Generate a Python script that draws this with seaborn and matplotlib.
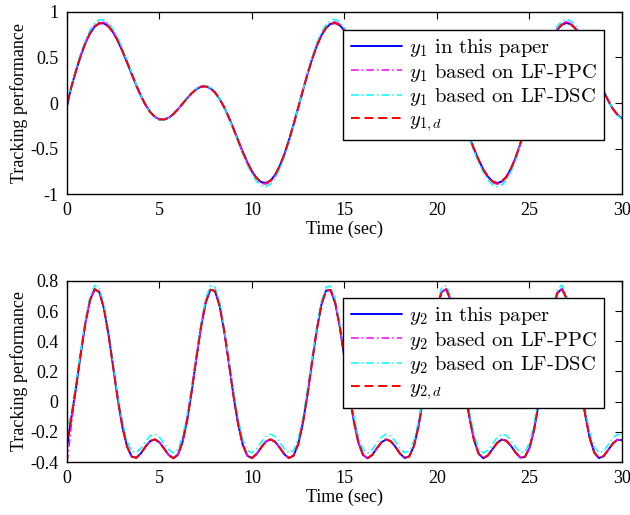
import numpy as np
import pandas as pd
import matplotlib
matplotlib.use("Agg")
import matplotlib.pyplot as plt
import seaborn as sns
from matplotlib.ticker import FixedLocator, FuncFormatter

# ---------------- data ----------------
# time grid: three early samples for the start-up transients, then 0.25 s steps
t = np.concatenate([[0.0, 0.05, 0.1], np.arange(1, 121) * 0.25])

y1_d = [0.000, 0.037, 0.075,
        0.186, 0.363, 0.524, 0.660, 0.767, 0.840, 0.876, 0.875, 0.840, 0.774,
        0.681, 0.569, 0.445, 0.317, 0.191, 0.076, -0.022, -0.100, -0.153, -0.180,
        -0.182, -0.162, -0.122, -0.069, -0.008, 0.053, 0.109, 0.153, 0.179, 0.183,
        0.163, 0.116, 0.045, -0.048, -0.159, -0.283, -0.411, -0.537, -0.653, -0.751,
        -0.825, -0.869, -0.879, -0.853, -0.790, -0.692, -0.563, -0.408, -0.234, -0.050,
        0.137, 0.318, 0.483, 0.627, 0.742, 0.824, 0.870, 0.879, 0.853, 0.794,
        0.708, 0.601, 0.479, 0.351, 0.224, 0.105, 0.002, -0.081, -0.141, -0.175,
        -0.184, -0.169, -0.135, -0.084, -0.025, 0.037, 0.095, 0.143, 0.174, 0.184,
        0.171, 0.131, 0.066, -0.022, -0.129, -0.249, -0.377, -0.504, -0.624, -0.728,
        -0.809, -0.861, -0.880, -0.863, -0.810, -0.721, -0.600, -0.451, -0.282, -0.099,
        0.088, 0.271, 0.441, 0.591, 0.714, 0.806, 0.861, 0.880, 0.863, 0.813,
        0.733, 0.631, 0.512, 0.385, 0.257, 0.136, 0.028, -0.062, -0.128, -0.169]

y1_this = [-0.040, 0.005, 0.060,
           0.186, 0.363, 0.524, 0.660, 0.767, 0.840, 0.876, 0.875, 0.840, 0.774,
           0.681, 0.569, 0.445, 0.317, 0.191, 0.076, -0.022, -0.100, -0.153, -0.180,
           -0.182, -0.162, -0.122, -0.069, -0.008, 0.053, 0.109, 0.153, 0.179, 0.183,
           0.163, 0.116, 0.045, -0.048, -0.159, -0.283, -0.411, -0.537, -0.653, -0.751,
           -0.825, -0.869, -0.879, -0.853, -0.790, -0.692, -0.563, -0.408, -0.234, -0.050,
           0.137, 0.318, 0.483, 0.627, 0.742, 0.824, 0.870, 0.879, 0.853, 0.794,
           0.708, 0.601, 0.479, 0.351, 0.224, 0.105, 0.002, -0.081, -0.141, -0.175,
           -0.184, -0.169, -0.135, -0.084, -0.025, 0.037, 0.095, 0.143, 0.174, 0.184,
           0.171, 0.131, 0.066, -0.022, -0.129, -0.249, -0.377, -0.504, -0.624, -0.728,
           -0.809, -0.861, -0.880, -0.863, -0.810, -0.721, -0.600, -0.451, -0.282, -0.099,
           0.088, 0.271, 0.441, 0.591, 0.714, 0.806, 0.861, 0.880, 0.863, 0.813,
           0.733, 0.631, 0.512, 0.385, 0.257, 0.136, 0.028, -0.062, -0.128, -0.169]

y1_ppc = [0.000, 0.038, 0.076,
          0.189, 0.368, 0.532, 0.670, 0.779, 0.853, 0.889, 0.888, 0.853, 0.786,
          0.691, 0.578, 0.452, 0.322, 0.194, 0.077, -0.022, -0.102, -0.155, -0.183,
          -0.185, -0.164, -0.124, -0.070, -0.008, 0.054, 0.111, 0.155, 0.182, 0.186,
          0.165, 0.118, 0.046, -0.049, -0.161, -0.287, -0.417, -0.545, -0.663, -0.762,
          -0.837, -0.882, -0.892, -0.866, -0.802, -0.702, -0.571, -0.414, -0.238, -0.051,
          0.139, 0.323, 0.490, 0.636, 0.753, 0.836, 0.883, 0.892, 0.866, 0.806,
          0.719, 0.610, 0.486, 0.356, 0.227, 0.107, 0.002, -0.082, -0.143, -0.178,
          -0.187, -0.172, -0.137, -0.085, -0.025, 0.038, 0.096, 0.145, 0.177, 0.187,
          0.174, 0.133, 0.067, -0.022, -0.131, -0.253, -0.383, -0.512, -0.633, -0.739,
          -0.821, -0.874, -0.893, -0.876, -0.822, -0.732, -0.609, -0.458, -0.286, -0.100,
          0.089, 0.275, 0.448, 0.600, 0.725, 0.818, 0.874, 0.893, 0.876, 0.825,
          0.744, 0.640, 0.520, 0.391, 0.261, 0.138, 0.028, -0.063, -0.130, -0.172]

y1_dsc = [0.200, 0.120, 0.080,
          0.194, 0.379, 0.548, 0.690, 0.802, 0.878, 0.915, 0.914, 0.878, 0.809,
          0.712, 0.595, 0.465, 0.331, 0.200, 0.079, -0.023, -0.105, -0.160, -0.188,
          -0.190, -0.169, -0.127, -0.072, -0.008, 0.055, 0.114, 0.160, 0.187, 0.191,
          0.170, 0.121, 0.047, -0.050, -0.166, -0.296, -0.429, -0.561, -0.682, -0.785,
          -0.862, -0.908, -0.919, -0.891, -0.826, -0.723, -0.588, -0.426, -0.245, -0.052,
          0.143, 0.332, 0.505, 0.655, 0.775, 0.861, 0.909, 0.919, 0.891, 0.830,
          0.740, 0.628, 0.501, 0.367, 0.234, 0.110, 0.002, -0.085, -0.147, -0.183,
          -0.192, -0.177, -0.141, -0.088, -0.026, 0.039, 0.099, 0.149, 0.182, 0.192,
          0.179, 0.137, 0.069, -0.023, -0.135, -0.260, -0.394, -0.527, -0.652, -0.761,
          -0.845, -0.900, -0.920, -0.902, -0.846, -0.753, -0.627, -0.471, -0.295, -0.103,
          0.092, 0.283, 0.461, 0.618, 0.746, 0.842, 0.900, 0.920, 0.902, 0.850,
          0.766, 0.659, 0.535, 0.402, 0.269, 0.142, 0.029, -0.065, -0.134, -0.177]

y2_d = [-0.250, -0.224, -0.195,
        -0.096, 0.105, 0.323, 0.525, 0.675, 0.746, 0.726, 0.618, 0.442, 0.228,
        0.014, -0.170, -0.298, -0.364, -0.372, -0.342, -0.297, -0.261, -0.250, -0.270,
        -0.311, -0.354, -0.375, -0.351, -0.266, -0.119, 0.076, 0.294, 0.500, 0.659,
        0.742, 0.734, 0.637, 0.468, 0.257, 0.041, -0.148, -0.285, -0.359, -0.374,
        -0.347, -0.303, -0.265, -0.250, -0.266, -0.305, -0.349, -0.374, -0.357, -0.281,
        -0.142, 0.048, 0.265, 0.475, 0.642, 0.736, 0.740, 0.654, 0.494, 0.287,
        0.069, -0.125, -0.270, -0.353, -0.375, -0.353, -0.309, -0.269, -0.250, -0.262,
        -0.299, -0.344, -0.373, -0.363, -0.295, -0.164, 0.021, 0.236, 0.449, 0.623,
        0.728, 0.745, 0.671, 0.518, 0.315, 0.097, -0.102, -0.254, -0.345, -0.375,
        -0.357, -0.315, -0.273, -0.251, -0.259, -0.293, -0.338, -0.371, -0.367, -0.307,
        -0.185, -0.006, 0.207, 0.422, 0.603, 0.719, 0.748, 0.686, 0.542, 0.344,
        0.126, -0.078, -0.238, -0.337, -0.374, -0.362, -0.321, -0.278, -0.252, -0.256]

y2_this = [-0.300, -0.262, -0.215,
           -0.096, 0.105, 0.323, 0.525, 0.675, 0.746, 0.726, 0.618, 0.442, 0.228,
           0.014, -0.170, -0.298, -0.364, -0.372, -0.342, -0.297, -0.261, -0.250, -0.270,
           -0.311, -0.354, -0.375, -0.351, -0.266, -0.119, 0.076, 0.294, 0.500, 0.659,
           0.742, 0.734, 0.637, 0.468, 0.257, 0.041, -0.148, -0.285, -0.359, -0.374,
           -0.347, -0.303, -0.265, -0.250, -0.266, -0.305, -0.349, -0.374, -0.357, -0.281,
           -0.142, 0.048, 0.265, 0.475, 0.642, 0.736, 0.740, 0.654, 0.494, 0.287,
           0.069, -0.125, -0.270, -0.353, -0.375, -0.353, -0.309, -0.269, -0.250, -0.262,
           -0.299, -0.344, -0.373, -0.363, -0.295, -0.164, 0.021, 0.236, 0.449, 0.623,
           0.728, 0.745, 0.671, 0.518, 0.315, 0.097, -0.102, -0.254, -0.345, -0.375,
           -0.357, -0.315, -0.273, -0.251, -0.259, -0.293, -0.338, -0.371, -0.367, -0.307,
           -0.185, -0.006, 0.207, 0.422, 0.603, 0.719, 0.748, 0.686, 0.542, 0.344,
           0.126, -0.078, -0.238, -0.337, -0.374, -0.362, -0.321, -0.278, -0.252, -0.256]

y2_ppc = [-0.400, -0.360, -0.310,
          -0.140, 0.095, 0.323, 0.525, 0.675, 0.746, 0.726, 0.618, 0.442, 0.228,
          0.014, -0.170, -0.298, -0.364, -0.372, -0.342, -0.297, -0.261, -0.250, -0.270,
          -0.311, -0.354, -0.375, -0.351, -0.266, -0.119, 0.076, 0.294, 0.500, 0.659,
          0.742, 0.734, 0.637, 0.468, 0.257, 0.041, -0.148, -0.285, -0.359, -0.374,
          -0.347, -0.303, -0.265, -0.250, -0.266, -0.305, -0.349, -0.374, -0.357, -0.281,
          -0.142, 0.048, 0.265, 0.475, 0.642, 0.736, 0.740, 0.654, 0.494, 0.287,
          0.069, -0.125, -0.270, -0.353, -0.375, -0.353, -0.309, -0.269, -0.250, -0.262,
          -0.299, -0.344, -0.373, -0.363, -0.295, -0.164, 0.021, 0.236, 0.449, 0.623,
          0.728, 0.745, 0.671, 0.518, 0.315, 0.097, -0.102, -0.254, -0.345, -0.375,
          -0.357, -0.315, -0.273, -0.251, -0.259, -0.293, -0.338, -0.371, -0.367, -0.307,
          -0.185, -0.006, 0.207, 0.422, 0.603, 0.719, 0.748, 0.686, 0.542, 0.344,
          0.126, -0.078, -0.238, -0.337, -0.374, -0.362, -0.321, -0.278, -0.252, -0.256]

y2_dsc = [-0.150, -0.150, -0.140,
          -0.075, 0.140, 0.348, 0.550, 0.700, 0.771, 0.751, 0.643, 0.467, 0.253,
          0.049, -0.135, -0.263, -0.329, -0.337, -0.307, -0.262, -0.226, -0.215, -0.235,
          -0.276, -0.319, -0.340, -0.316, -0.231, -0.084, 0.111, 0.319, 0.525, 0.684,
          0.767, 0.759, 0.662, 0.493, 0.282, 0.076, -0.113, -0.250, -0.324, -0.339,
          -0.312, -0.268, -0.230, -0.215, -0.231, -0.270, -0.314, -0.339, -0.322, -0.246,
          -0.107, 0.083, 0.290, 0.500, 0.667, 0.761, 0.765, 0.679, 0.519, 0.312,
          0.104, -0.090, -0.235, -0.318, -0.340, -0.318, -0.274, -0.234, -0.215, -0.227,
          -0.264, -0.309, -0.338, -0.328, -0.260, -0.129, 0.056, 0.261, 0.474, 0.648,
          0.753, 0.770, 0.696, 0.543, 0.340, 0.132, -0.067, -0.219, -0.310, -0.340,
          -0.322, -0.280, -0.238, -0.216, -0.224, -0.258, -0.303, -0.336, -0.332, -0.272,
          -0.150, 0.029, 0.232, 0.447, 0.628, 0.744, 0.773, 0.711, 0.567, 0.369,
          0.151, -0.043, -0.203, -0.302, -0.339, -0.327, -0.286, -0.243, -0.217, -0.221]

x_ticks = [0, 5, 10, 15, 20, 25, 30]
y1_ticks = [-1, -0.5, 0, 0.5, 1]
y2_ticks = [-0.4, -0.2, 0, 0.2, 0.4, 0.6, 0.8]

labels1 = [r"$y_1$ in this paper", r"$y_1$ based on LF-PPC",
           r"$y_1$ based on LF-DSC", r"$y_{1,d}$"]
labels2 = [r"$y_2$ in this paper", r"$y_2$ based on LF-PPC",
           r"$y_2$ based on LF-DSC", r"$y_{2,d}$"]

# ---------------- styling ----------------
sns.set_theme(style="white")
plt.rcParams.update({
    "font.family": ["Liberation Serif", "DejaVu Serif"],
    "mathtext.fontset": "cm",
    "axes.unicode_minus": False,
    "axes.edgecolor": "black",
    "axes.linewidth": 1.0,
    "axes.labelcolor": "black",
    "text.color": "black",
    "xtick.color": "black",
    "ytick.color": "black",
})

df1 = pd.DataFrame({"t": t, "this": y1_this, "ppc": y1_ppc, "dsc": y1_dsc, "d": y1_d})
df2 = pd.DataFrame({"t": t, "this": y2_this, "ppc": y2_ppc, "dsc": y2_dsc, "d": y2_d})

styles = [("#0000ff", "-", 1.4),
          ("#ff00ff", (0, (5, 2, 1, 2)), 1.1),
          ("#00ffff", (0, (5, 2, 1, 2)), 1.1),
          ("#ff0000", (0, (4.5, 2.5)), 1.4)]

fig = plt.figure(figsize=(6.3, 5.15), dpi=100)
ax1 = fig.add_axes([0.1063, 0.6233, 0.8810, 0.3534])
ax2 = fig.add_axes([0.1063, 0.1029, 0.8810, 0.3515])

fmt = FuncFormatter(lambda v, p: "%g" % v)


def draw(ax, df, labels, ylim, yticks, leg_top):
    for col, lab, (c, ls, lw) in zip(["this", "ppc", "dsc", "d"], labels, styles):
        sns.lineplot(data=df, x="t", y=col, ax=ax, color=c, linestyle=ls,
                     linewidth=lw, label=lab, estimator=None, sort=False)
    ax.set_xlim(0, 30)
    ax.set_ylim(*ylim)
    ax.xaxis.set_major_locator(FixedLocator(x_ticks))
    ax.yaxis.set_major_locator(FixedLocator(yticks))
    ax.xaxis.set_major_formatter(fmt)
    ax.yaxis.set_major_formatter(fmt)
    ax.tick_params(direction="in", top=True, right=True, length=5, width=0.8,
                   labelsize=13, pad=6)
    for s in ax.spines.values():
        s.set_visible(True)
        s.set_color("black")
        s.set_linewidth(1.0)
    ax.set_xlabel("Time (sec)", fontsize=13, labelpad=1)
    ax.set_ylabel("Tracking performance", fontsize=13, labelpad=2)
    leg = ax.legend(loc="upper right", bbox_to_anchor=(0.968, leg_top),
                    borderaxespad=0, fancybox=False, framealpha=1,
                    edgecolor="black", handlelength=2.5, handletextpad=0.35,
                    labelspacing=0.12, borderpad=0.35,
                    prop={"family": ["cmr10", "DejaVu Serif"], "size": 14.8})
    leg.get_frame().set_linewidth(1.0)


draw(ax1, df1, labels1, (-1, 1), y1_ticks, 0.901)
draw(ax2, df2, labels2, (-0.4, 0.8), y2_ticks, 0.906)

fig.savefig("out.png", dpi=100, facecolor="white")
